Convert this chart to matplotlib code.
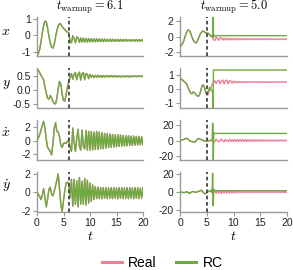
import numpy as np
import matplotlib
matplotlib.use('Agg')
import matplotlib.pyplot as plt
from matplotlib.lines import Line2D

plt.rcParams['mathtext.fontset'] = 'cm'
plt.rcParams['font.family'] = ['Liberation Sans', 'DejaVu Sans']
plt.rcParams['axes.unicode_minus'] = False

# time grid of the sampled trajectories
t = np.linspace(0, 20, 81)

x_real = [-1.20, -1.10, -0.85, -0.40, 0.15, 0.60, 0.87, 0.82, 0.45, -0.05,
          -0.45, -0.70, -0.77, -0.55, -0.10, 0.30, 0.58, 0.72, 0.68, 0.52,
          0.45, 0.35, 0.27, 0.20, 0.15, -0.38, -0.45, -0.02, -0.20, -0.45,
          -0.08, -0.15, -0.42, -0.15, -0.40, -0.17, -0.40, -0.18, -0.40, -0.19,
          -0.39, -0.20, -0.39, -0.20, -0.38, -0.21, -0.38, -0.21, -0.38, -0.22,
          -0.37, -0.22, -0.37, -0.23, -0.37, -0.23, -0.36, -0.23, -0.36, -0.24,
          -0.36, -0.24, -0.36, -0.24, -0.36, -0.24, -0.35, -0.24, -0.35, -0.25,
          -0.35, -0.25, -0.35, -0.25, -0.35, -0.25, -0.35, -0.25, -0.35, -0.25,
          -0.34]
y_real = [0.73, 0.70, 0.62, 0.52, 0.45, 0.35, 0.10, -0.12, -0.30, -0.33,
          -0.20, -0.28, -0.42, -0.49, -0.50, -0.30, 0.05, 0.30, 0.20, -0.15,
          -0.38, -0.40, -0.15, 0.10, 0.30, 0.45, 0.58, 0.38, 0.55, 0.62,
          0.36, 0.55, 0.63, 0.35, 0.58, 0.62, 0.36, 0.58, 0.56, 0.40,
          0.55, 0.45, 0.52, 0.44, 0.52, 0.45, 0.52, 0.45, 0.51, 0.45,
          0.51, 0.45, 0.51, 0.46, 0.51, 0.46, 0.51, 0.46, 0.51, 0.46,
          0.50, 0.46, 0.50, 0.46, 0.50, 0.46, 0.50, 0.46, 0.50, 0.46,
          0.50, 0.46, 0.50, 0.47, 0.50, 0.47, 0.50, 0.47, 0.50, 0.47,
          0.50]
xdot_real = [0.0, 0.4, 0.9, 1.6, 2.3, 2.9, 1.9, 0.2, -1.0, -1.3,
             -1.6, -2.1, -0.5, 1.8, 2.7, 1.4, 1.3, 0.6, -0.7, -1.0,
             -0.4, -0.3, -0.4, -0.1, 0.1, -1.0, -1.6, 1.9, -0.2, -1.6,
             0.3, 1.7, -0.8, -1.4, 1.6, -0.9, -1.2, 1.5, -1.4, 1.4,
             -1.4, 1.4, -1.4, 1.3, -1.3, 1.4, -1.3, 1.3, -1.2, 1.2,
             -1.2, 1.1, -1.1, 1.1, -1.0, 1.0, -1.0, 0.95, -0.95, 0.9,
             -0.9, 0.9, -0.85, 0.85, -0.8, 0.8, -0.8, 0.75, -0.75, 0.75,
             -0.7, 0.7, -0.7, 0.7, -0.65, 0.65, -0.65, 0.65, -0.6, 0.6,
             -0.6]
ydot_real = [0.0, -0.25, -0.45, -0.8, -0.3, 0.4, -0.6, -1.6, -0.7, 0.3,
             0.55, -0.2, -0.4, 0.1, 0.7, 1.3, 2.0, 0.4, -1.4, -2.1,
             -0.9, 0.2, 1.0, 1.1, 0.9, -0.6, 1.4, -1.5, 1.4, -1.3,
             1.25, -1.6, 1.6, -1.3, 1.2, -1.3, 1.5, -1.4, 1.3, -1.2,
             1.0, -1.0, 0.8, -0.8, 0.6, -0.7, 0.55, -0.7, 0.5, -0.7,
             0.5, -0.65, 0.5, -0.7, 0.45, -0.65, 0.5, -0.7, 0.5, -0.65,
             0.45, -0.7, 0.5, -0.65, 0.5, -0.7, 0.45, -0.65, 0.5, -0.7,
             0.5, -0.65, 0.45, -0.7, 0.5, -0.65, 0.5, -0.7, 0.45, -0.65,
             0.5]

t_warm_left = 6.1
t_warm_right = 5.0

# RC prediction after the short warmup (right column)
rc_t_x = [5.0, 5.25, 5.5, 5.75, 6.0, 6.1, 6.2, 6.28, 6.35, 20.0]
rc_x = [0.45, 0.50, 0.30, 0.05, 0.0, -0.1, 2.55, 0.0, 0.15, 0.15]
rc_t_y = [5.0, 5.25, 5.5, 5.75, 6.0, 6.1, 6.17, 6.25, 20.0]
rc_y = [-0.38, -0.20, 0.10, 0.00, -0.15, -0.25, -1.30, 1.33, 1.33]
rc_t_xdot = [5.0, 5.25, 5.5, 5.75, 6.0, 6.1, 6.15, 6.22, 6.3, 6.38, 20.0]
rc_xdot = [-0.4, -0.5, -0.2, 0.5, 0.3, 22.0, 18.0, -24.0, 10.0, 9.0, 9.0]
rc_t_ydot = [5.0, 5.25, 5.5, 5.75, 5.9, 6.0, 6.1, 6.2, 6.3, 6.4, 20.0]
rc_ydot = [-0.9, 0.5, 1.5, 0.5, 2.5, -1.0, 21.0, -15.5, 3.0, 1.4, 1.4]

var_labels = [r'$x$', r'$y$', r'$\dot{x}$', r'$\dot{y}$']
left_ticks = [[-1, 0, 1], [-0.5, 0.0, 0.5], [-2, 0, 2], [-2, 0, 2]]
left_ticklabels = [['-1', '0', '1'], ['-0.5', '0.0', '0.5'], ['-2', '0', '2'], ['-2', '0', '2']]
right_ticks = [[-2, 0, 2], [-1, 0, 1], [-20, 0, 20], [-20, 0, 20]]
left_lims = [(-1.25, 1.15), (-0.63, 0.78), (-2.8, 3.1), (-2.1, 2.2)]
right_lims = [(-2.45, 2.6), (-1.3, 1.47), (-24, 26), (-22, 22.5)]

GREEN = '#6cab3f'
PINK = '#ef7c98'
SPINE = '#9a9a9a'

W, H = 293, 270
fig = plt.figure(figsize=(W / 100, H / 100), dpi=100)

col_x = [37, 180]
col_w = [106, 107]
row_top = [16.5, 68, 120, 172]
row_h = 39.5

reals = [x_real, y_real, xdot_real, ydot_real]
rc_ts = [rc_t_x, rc_t_y, rc_t_xdot, rc_t_ydot]
rc_vals = [rc_x, rc_y, rc_xdot, rc_ydot]
label_y = [31, 84, 133, 186]

for c in range(2):
    for r in range(4):
        ax = fig.add_axes([col_x[c] / W, 1 - (row_top[r] + row_h) / H,
                           col_w[c] / W, row_h / H])
        real = np.array(reals[r])
        ax.plot(t, real, color=PINK, lw=1.0, zorder=2)
        if c == 0:
            ax.plot(t, real, color=GREEN, lw=1.0, zorder=3)
            tw = t_warm_left
            ax.set_ylim(*left_lims[r])
            ax.set_yticks(left_ticks[r])
            ax.set_yticklabels(left_ticklabels[r])
        else:
            pre = t < t_warm_right
            tt = np.concatenate([t[pre], rc_ts[r]])
            vv = np.concatenate([real[pre], rc_vals[r]])
            ax.plot(tt, vv, color=GREEN, lw=1.0, zorder=3)
            tw = t_warm_right
            ax.set_ylim(*right_lims[r])
            ax.set_yticks(right_ticks[r])
        ax.axvline(tw, color='#444444', lw=1.3, ls=(0, (2.0, 1.5)), zorder=4)
        ax.set_xlim(0, 20)
        for s in ['top', 'right']:
            ax.spines[s].set_visible(False)
        for s in ['left', 'bottom']:
            ax.spines[s].set_color(SPINE)
            ax.spines[s].set_linewidth(1.0)
        ax.tick_params(axis='both', length=3, width=0.8, color=SPINE,
                       labelsize=7.5, labelcolor='#222222', pad=1.5)
        ax.set_xticks([0, 5, 10, 15, 20])
        if r < 3:
            ax.tick_params(axis='x', bottom=False, labelbottom=False)
        else:
            ax.set_xlabel(r'$t$', fontsize=10, labelpad=1)
        if r == 0:
            ax.set_title(r'$t_{\rm warmup} = %.1f$' % tw, fontsize=9, pad=3)
        if c == 0:
            fig.text(6 / W, 1 - label_y[r] / H, var_labels[r], fontsize=10,
                     ha='center', va='center')

handles = [Line2D([], [], color=PINK, lw=2.2), Line2D([], [], color=GREEN, lw=2.2)]
fig.legend(handles, ['Real', 'RC'], loc='center', bbox_to_anchor=(162 / W, 1 - 263 / H),
           ncol=2, frameon=False, fontsize=10, handlelength=1.45,
           handletextpad=0.45, columnspacing=1.4)

fig.savefig('out.png', dpi=100)
